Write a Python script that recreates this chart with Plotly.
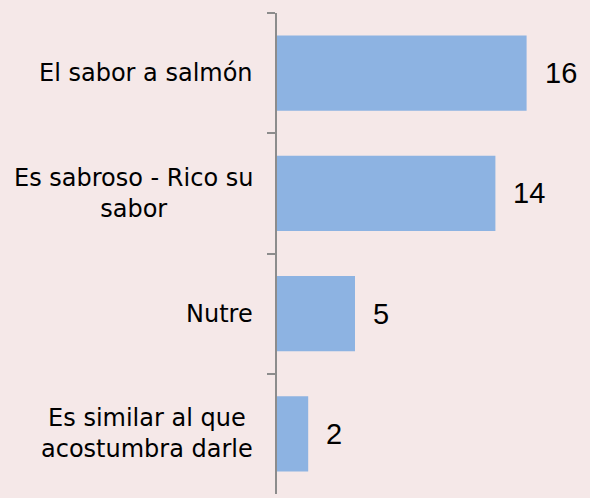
import plotly.graph_objects as go

categories = ["El sabor a salmón", "Es sabroso - Rico su<br>sabor", "Nutre",
              "Es similar al que<br>acostumbra darle"]
values = [16, 14, 5, 2]

fig = go.Figure()
fig.add_trace(go.Bar(
    x=values,
    y=categories,
    orientation="h",
    marker=dict(color="#8DB3E2", line=dict(width=0)),
    hoverinfo="skip",
))

# category labels, centered per line like the original
for cat in categories:
    fig.add_annotation(
        x=0, xref="paper", y=cat, yref="y",
        text=cat, showarrow=False,
        xanchor="right", yanchor="middle", align="center", xshift=-22,
        font=dict(family="DejaVu Sans", size=24, color="#000000"),
    )

# value labels
for cat, v in zip(categories, values):
    fig.add_annotation(
        x=v, y=cat, text=str(v), showarrow=False,
        xanchor="left", yanchor="middle", xshift=16,
        font=dict(family="Liberation Sans", size=29, color="#000000"),
    )

fig.update_layout(
    width=590, height=498,
    margin=dict(l=277, r=1, t=13, b=4),
    paper_bgcolor="#F5E8E8",
    plot_bgcolor="#F5E8E8",
    bargap=0.375,
    showlegend=False,
)
fig.update_xaxes(range=[0, 20], visible=False)
fig.update_yaxes(
    autorange="reversed",
    showticklabels=False,
    showgrid=False,
    zeroline=False,
    showline=True, linecolor="#8C8C8C", linewidth=2,
    ticks="outside", tickson="boundaries", ticklen=8,
    tickcolor="#8C8C8C", tickwidth=2,
)

fig.write_html(
    "out.html",
    config={"displayModeBar": False},
    post_script="document.body.style.margin='0';document.body.style.padding='0';",
)
